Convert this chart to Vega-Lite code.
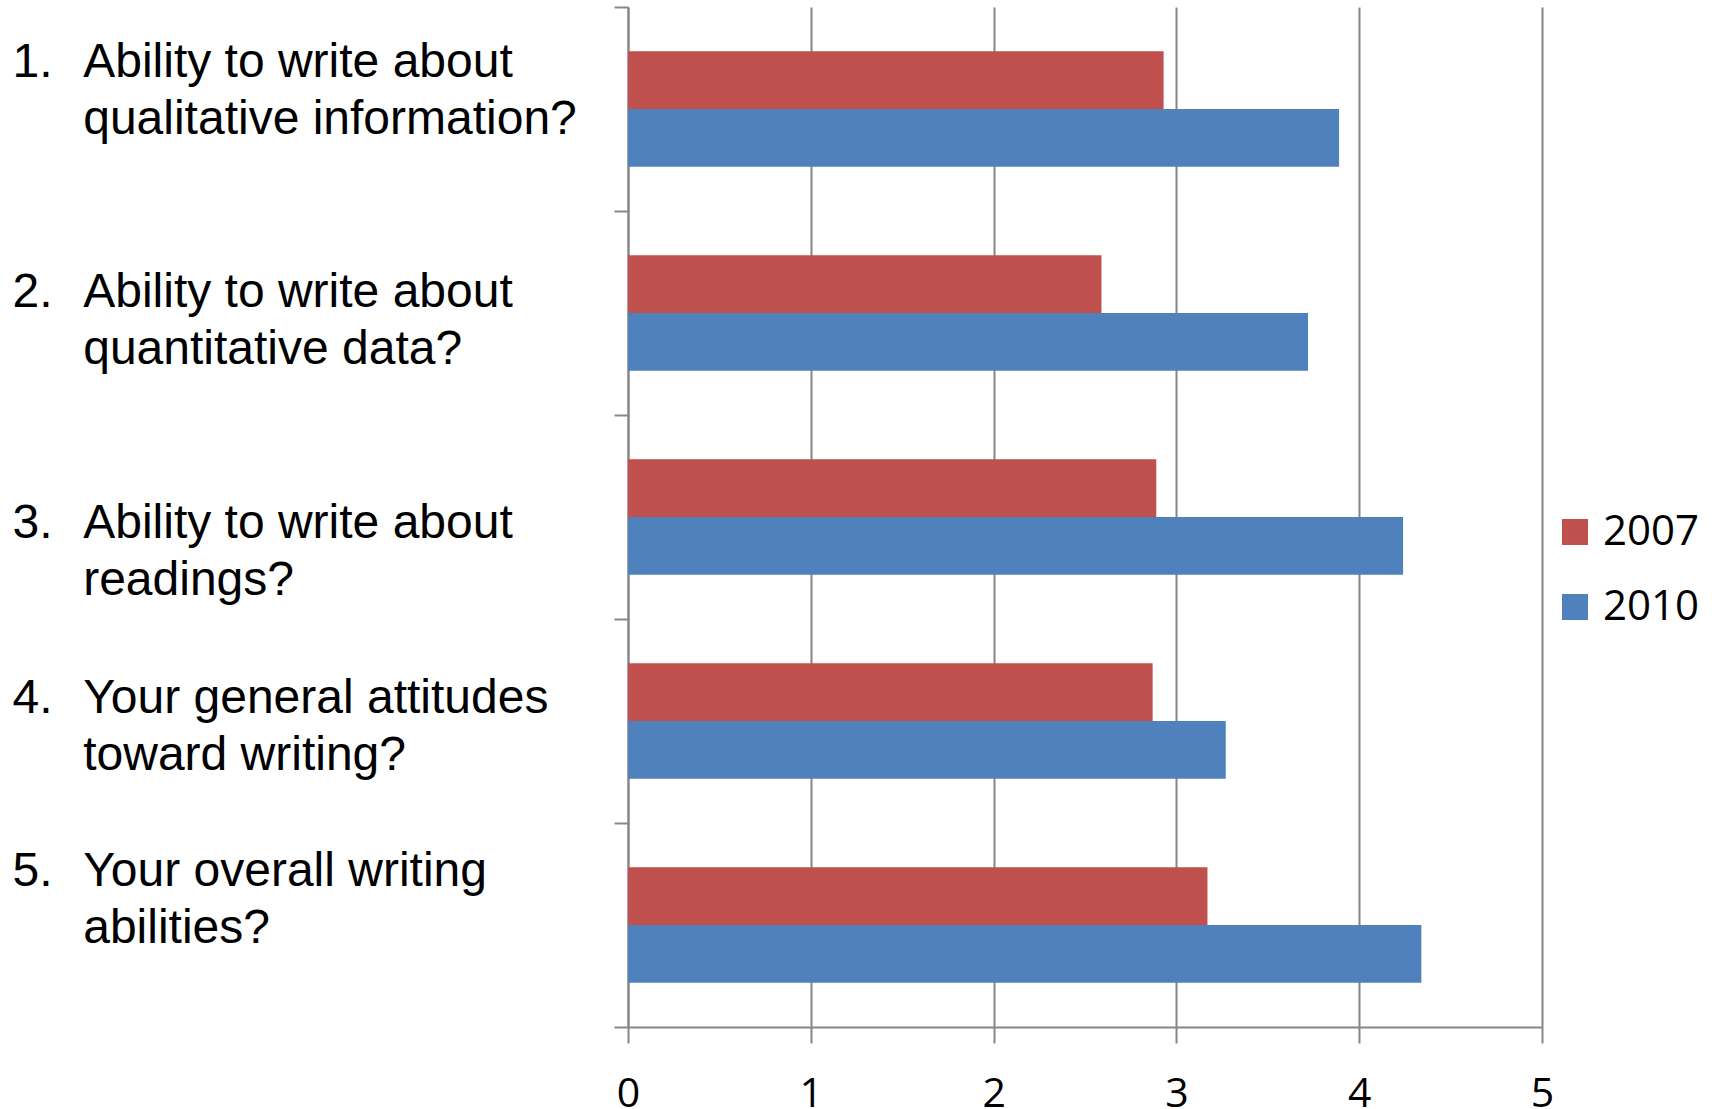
{
  "$schema": "https://vega.github.io/schema/vega-lite/v6.json",
  "width": 914,
  "height": 1020,
  "autosize": {"type": "none"},
  "padding": {"left": 628, "top": 7, "right": 175, "bottom": 82},
  "background": "white",
  "data": {
    "values": [
      {"question": "1.|Ability to write about|qualitative information?", "year": "2007", "score": 2.93},
      {"question": "1.|Ability to write about|qualitative information?", "year": "2010", "score": 3.89},
      {"question": "2.|Ability to write about|quantitative data?", "year": "2007", "score": 2.59},
      {"question": "2.|Ability to write about|quantitative data?", "year": "2010", "score": 3.72},
      {"question": "3.|Ability to write about|readings?", "year": "2007", "score": 2.89},
      {"question": "3.|Ability to write about|readings?", "year": "2010", "score": 4.24},
      {"question": "4.|Your general attitudes|toward writing?", "year": "2007", "score": 2.87},
      {"question": "4.|Your general attitudes|toward writing?", "year": "2010", "score": 3.27},
      {"question": "5.|Your overall writing|abilities?", "year": "2007", "score": 3.17},
      {"question": "5.|Your overall writing|abilities?", "year": "2010", "score": 4.34}
    ]
  },
  "mark": {"type": "bar"},
  "encoding": {
    "y": {
      "field": "question",
      "type": "nominal",
      "sort": null,
      "scale": {"paddingInner": 0, "paddingOuter": 0},
      "axis": {
        "title": null,
        "tickBand": "extent",
        "domainColor": "#868686",
        "domainWidth": 2,
        "tickColor": "#868686",
        "tickWidth": 2,
        "tickSize": 14,
        "grid": false,
        "labelAlign": "left",
        "labelBaseline": "middle",
        "labelPadding": 602,
        "labelOffset": {"expr": "isObject(datum) && isString(datum.value) ? (indexof(datum.value, '1.') === 0 ? -47 : indexof(datum.value, '2.') === 0 ? -21 : indexof(datum.value, '3.') === 0 ? 6 : indexof(datum.value, '4.') === 0 ? -23 : indexof(datum.value, '5.') === 0 ? -54 : -29) : -29"},
        "labelLimit": 800,
        "labelFont": "Liberation Sans",
        "labelFontSize": 48,
        "labelLineHeight": 57,
        "labelColor": "black",
        "labelExpr": "isString(datum.label) && indexof(datum.label, '|') >= 0 ? [split(datum.label, '|')[0] + '\u00a0\u00a0\u200a' + split(datum.label, '|')[1], '\u200b\u00a0\u00a0\u00a0\u00a0\u00a0\u200a' + split(datum.label, '|')[2]] : ''"
      }
    },
    "yOffset": {
      "field": "year",
      "type": "nominal",
      "sort": ["2007", "2010"],
      "scale": {"paddingInner": 0, "paddingOuter": 0.763}
    },
    "x": {
      "field": "score",
      "type": "quantitative",
      "scale": {"domain": [0, 5], "nice": false},
      "axis": {
        "title": null,
        "values": [0, 1, 2, 3, 4, 5],
        "grid": true,
        "gridColor": "#868686",
        "gridWidth": 2,
        "domainColor": "#868686",
        "domainWidth": 2,
        "tickColor": "#868686",
        "tickWidth": 2,
        "tickSize": 16,
        "labelPadding": 31,
        "labelFont": "Open Sans",
        "labelFontSize": 41,
        "labelColor": "black",
        "labelFlush": false
      }
    },
    "color": {
      "field": "year",
      "type": "nominal",
      "scale": {"domain": ["2007", "2010"], "range": ["#C0504D", "#4F81BD"]},
      "legend": {
        "title": null,
        "orient": "none",
        "legendX": 926,
        "legendY": 504,
        "padding": 0,
        "symbolType": "square",
        "symbolSize": 676,
        "symbolStrokeWidth": 0,
        "labelFont": "Open Sans",
        "labelFontSize": 42,
        "labelColor": "black",
        "labelOffset": 7,
        "rowPadding": 33
      }
    }
  },
  "config": {
    "view": {"stroke": null}
  }
}
